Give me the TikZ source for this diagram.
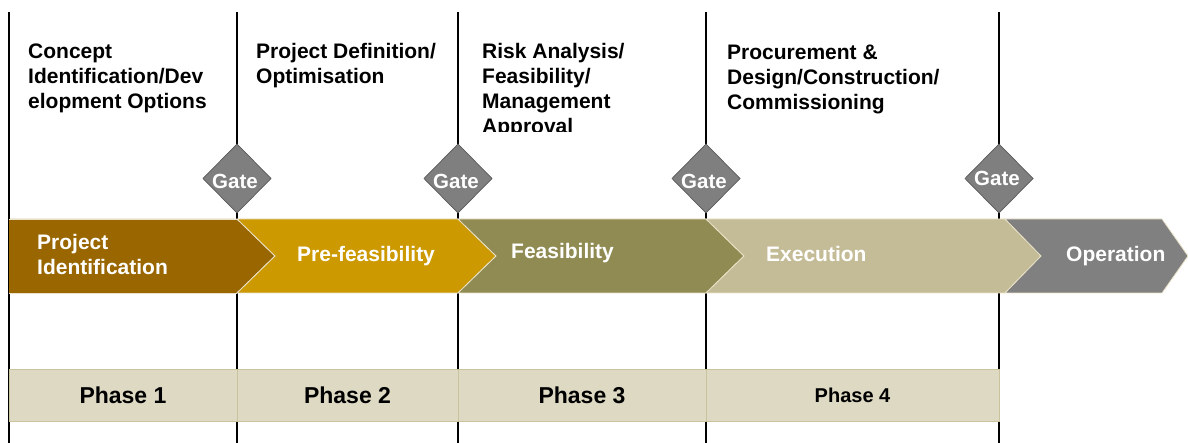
\documentclass[tikz,border=0pt]{standalone}
\usepackage{fontspec}
\setmainfont{Liberation Sans}
\definecolor{cPI}{HTML}{996600}
\definecolor{cPF}{HTML}{CC9900}
\definecolor{cFE}{HTML}{908A53}
\definecolor{cEX}{HTML}{C4BC96}
\definecolor{cOP}{HTML}{808080}
\definecolor{chevedge}{HTML}{E9E2C8}
\definecolor{gategray}{HTML}{7F7F7F}
\definecolor{gateedge}{HTML}{5A5A5A}
\definecolor{phasefill}{HTML}{DDD9C3}
\definecolor{phaseedge}{HTML}{CBC39E}
\begin{document}
\begin{tikzpicture}[x=1pt,y=-1pt,
  vline/.style={line width=1.4pt, draw=black},
  chev/.style={draw=chevedge, line width=0.8pt},
  gatebox/.style={fill=gategray, draw=gateedge, line width=0.7pt},
  gatetxt/.style={text=white, font=\fontsize{20.5}{24}\selectfont\bfseries, inner sep=0pt, anchor=base},
  toptxt/.style={text=black, inner sep=0pt, anchor=base west, font=\fontsize{21}{25}\selectfont\bfseries},
  chevtxt/.style={text=white, inner sep=0pt, anchor=base west, font=\fontsize{21}{25}\selectfont\bfseries},
  phasebox/.style={fill=phasefill, draw=phaseedge, line width=1pt, minimum height=52pt, inner sep=0pt, text=black, font=\fontsize{23}{27}\selectfont\bfseries},
]
\useasboundingbox (0,0) rectangle (1188,443);
% vertical gate lines
\foreach \n/\x in {1/9,2/237,3/458,4/706,5/999}{
  \coordinate (top\n) at (\x,12);
  \coordinate (bot\n) at (\x,443);
  \draw[vline] (top\n) -- (bot\n);
}
% top texts
\node[toptxt] (d1) at (28,59) {\parbox[t]{8cm}{\raggedright Concept\\Identification/Dev\\elopment Options}};
\node[toptxt] (d2) at (256,59) {\parbox[t]{8cm}{\raggedright Project Definition/\\Optimisation}};
\begin{scope}
\clip (460,0) rectangle (700,132);
\node[toptxt] (d3) at (482,59) {\parbox[t]{8cm}{\raggedright Risk Analysis/\\Feasibility/\\Management\\Approval}};
\end{scope}
\node[toptxt] (d4) at (727,60) {\parbox[t]{8cm}{\raggedright Procurement \&\\Design/Construction/\\Commissioning}};
% chevrons
\fill[cPI] (9,219) -- (237,219) -- (275,256) -- (237,293) -- (9,293) -- cycle;
\draw[chev] (237,219) -- (275,256) -- (237,293);
\draw[chev] (9,219) -- (237,219) (9,293) -- (237,293);
\draw[chev,fill=cPF] (237,219) -- (458,219) -- (496,256) -- (458,293) -- (237,293) -- (275,256) -- cycle;
\draw[chev,fill=cFE] (458,219) -- (706,219) -- (744,256) -- (706,293) -- (458,293) -- (496,256) -- cycle;
\draw[chev,fill=cEX] (706,219) -- (1005,219) -- (1041,256) -- (1005,293) -- (706,293) -- (744,256) -- cycle;
\draw[chev,fill=cOP] (1005,219) -- (1162,219) -- (1188,256) -- (1162,293) -- (1005,293) -- (1041,256) -- cycle;
\node[chevtxt] (l1) at (37,250) {\parbox[t]{6cm}{Project\\Identification}};
\node[chevtxt] (l2) at (297,262) {Pre-feasibility};
\node[chevtxt] (l3) at (511,259) {Feasibility};
\node[chevtxt] (l4) at (766,262) {Execution};
\node[chevtxt] (l5) at (1066,262) {Operation};
% gates
\foreach \n/\x/\ty in {1/237/189,2/458/189,3/706/189,4/999/186}{
  \draw[gatebox] (\x,144) -- (\x+34,178.5) -- (\x,213) -- (\x-34,178.5) -- cycle;
  \node[gatetxt] (g\n) at (\x-2,\ty) {Gate};
}
% phases
\node[phasebox, minimum width=228pt] (p1) at (123,395) {Phase 1};
\node[phasebox, minimum width=221pt] (p2) at (347.5,395) {Phase 2};
\node[phasebox, minimum width=248pt] (p3) at (582,395) {Phase 3};
\node[phasebox, minimum width=293pt, font=\fontsize{20}{24}\selectfont\bfseries] (p4) at (852.5,395) {Phase 4};
\end{tikzpicture}
\end{document}
